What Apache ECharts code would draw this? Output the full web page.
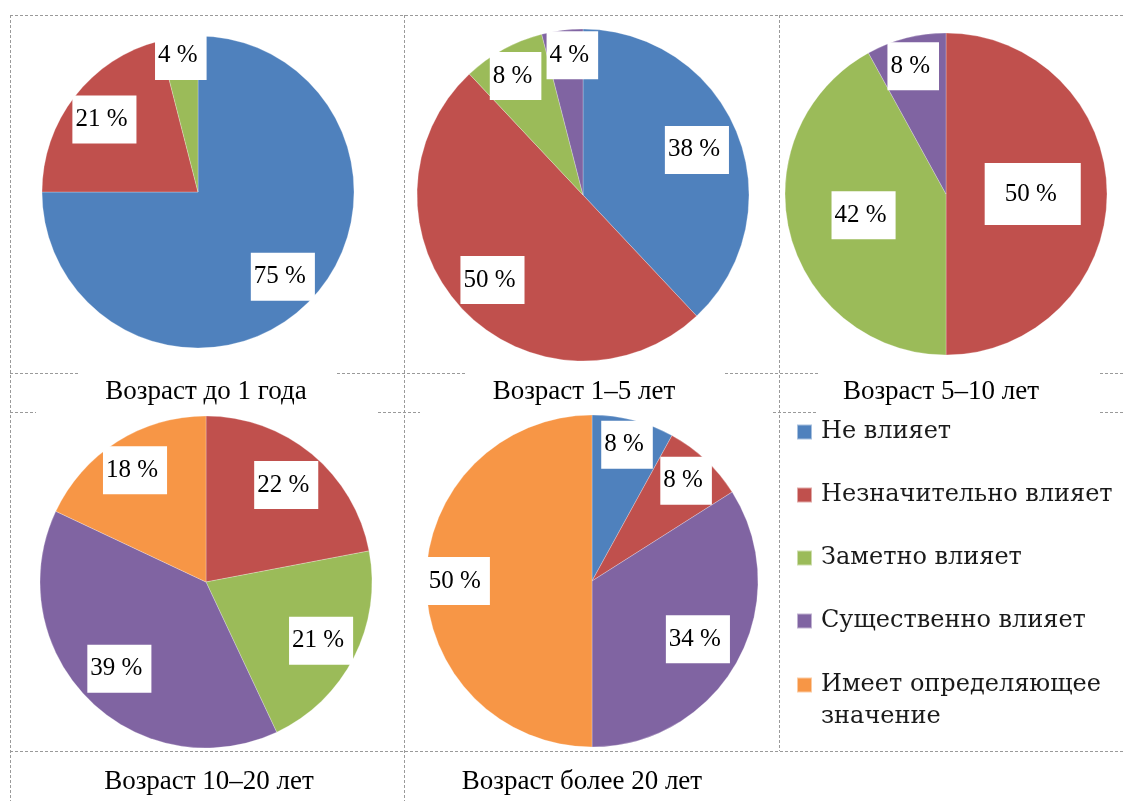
<!DOCTYPE html>
<html>
<head>
<meta charset="utf-8">
<title>Влияние по возрастным группам</title>
<script src="https://cdn.jsdelivr.net/npm/echarts@6/dist/echarts.min.js"></script>
<style>
  html, body { margin: 0; padding: 0; background: #fff; }
  #chart { width: 1123px; height: 801px; }
</style>
</head>
<body>
<div id="chart"></div>
<script>
// categories (legend order) and their colours
const categories = ['Не влияет', 'Незначительно влияет', 'Заметно влияет', 'Существенно влияет', 'Имеет определяющее значение'];
const colors = ['#4f81bd', '#c0504d', '#9bbb59', '#8064a2', '#f79646'];

const ageTitles = ['Возраст до 1 года', 'Возраст 1–5 лет', 'Возраст 5–10 лет', 'Возраст 10–20 лет', 'Возраст более 20 лет'];

// percent per category, same order as categories
const under1 = [75, 21, 4, 0, 0];
const age1to5 = [38, 50, 8, 4, 0];
const age5to10 = [0, 50, 42, 8, 0];
const age10to20 = [0, 22, 21, 39, 18];
const over20 = [8, 8, 0, 34, 50];
const pieValues = [under1, age1to5, age5to10, age10to20, over20];

// layout: pie centre/radius, title position, label distance (fraction of radius) per category
const pies = [
  { center: [198, 192], r: 156, titleAt: [206, 392], ring: [0.75, 0.74, 0.86, 0, 0] },
  { center: [583, 195], r: 166, titleAt: [584, 392], ring: [0.72, 0.73, 0.8, 0.83, 0], nudge: { 3: [7, 0], 2: [-2, 0] } },
  { center: [946, 194], r: 161, titleAt: [941, 392], ring: [0, 0.52, 0.51, 0.8, 0], wide: 1 },
  { center: [206, 582], r: 166, titleAt: [209, 782], ring: [0, 0.74, 0.76, 0.72, 0.78] },
  { center: [592, 581], r: 166, titleAt: [582, 782], ring: [0.83, 0.81, 0, 0.71, 0.79] }
];

const serif = 'Liberation Serif';
const labelStyle = {
  show: true, position: 'inside', formatter: '{c} %',
  fontFamily: serif, fontSize: 25, color: '#000', lineHeight: 26,
  backgroundColor: '#fff', padding: [11, 9, 11, 3]
};

const series = [];
pies.forEach((p, i) => {
  const items = [];
  pieValues[i].forEach((v, k) => { if (v > 0) items.push({ name: categories[k], value: v, k: k }); });
  series.push({
    type: 'pie', center: p.center, radius: p.r, startAngle: 90, clockwise: true,
    silent: true, animation: false,
    label: { show: false }, labelLine: { show: false },
    itemStyle: { borderColor: 'rgba(255,255,255,0.5)', borderWidth: 0.5 },
    data: items.map(d => ({ name: d.name, value: d.value, itemStyle: { color: colors[d.k] } }))
  });
  // transparent rings only to put each label at its own distance from centre
  const rings = [...new Set(items.map(d => p.ring[d.k]))];
  rings.forEach(f => {
    series.push({
      type: 'pie', center: p.center, radius: [Math.max(0, 2 * f - 1) * p.r, p.r],
      startAngle: 90, clockwise: true, silent: true, animation: false,
      avoidLabelOverlap: false, labelLayout: { hideOverlap: false },
      itemStyle: { color: 'rgba(0,0,0,0)' }, labelLine: { show: false },
      label: labelStyle,
      data: items.map(d => {
        const lab = { show: p.ring[d.k] === f };
        if (p.wide === d.k) lab.padding = [18, 24, 18, 20];
        if (p.nudge && p.nudge[d.k]) lab.offset = p.nudge[d.k];
        return { name: d.name, value: d.value, label: lab };
      })
    });
  });
});

// dashed frame of the original table
const hLines = [
  [15, [[10, 1123]]],
  [373, [[10, 80], [337, 467], [725, 818], [1100, 1123]]],
  [412, [[10, 36], [378, 420], [773, 818], [1100, 1123]]],
  [751, [[10, 1123]]]
];
const vLines = [[10, 15, 801], [404, 15, 801], [779, 15, 751]];
const dash = { stroke: '#9a9a9a', lineWidth: 1, lineDash: [3, 2] };
const graphic = [];
hLines.forEach(([y, segs]) => segs.forEach(([x1, x2]) => graphic.push({
  type: 'line', silent: true, z: -10, shape: { x1: x1, y1: y + 0.5, x2: x2, y2: y + 0.5 }, style: dash
})));
vLines.forEach(([x, y1, y2]) => graphic.push({
  type: 'line', silent: true, z: -10, shape: { x1: x + 0.5, y1: y1, x2: x + 0.5, y2: y2 }, style: dash
}));
ageTitles.forEach((t, i) => graphic.push({
  type: 'text', silent: true, x: pies[i].titleAt[0], y: pies[i].titleAt[1],
  style: {
    text: t, fill: '#000', font: '27px "' + serif + '"',
    align: 'center', verticalAlign: 'middle', textAlign: 'center', textVerticalAlign: 'middle'
  }
}));

const legendText = { fontFamily: 'DejaVu Serif', fontSize: 24, color: '#1a1a1a', lineHeight: 30, padding: [0, 0, 0, 4] };

const chart = echarts.init(document.getElementById('chart'));
chart.setOption({
  backgroundColor: '#fff',
  animation: false,
  legend: [
    {
      data: categories.slice(0, 4), orient: 'vertical', left: 796, top: 417, padding: 0,
      itemGap: 33, itemWidth: 15, itemHeight: 15, icon: 'rect', selectedMode: false,
      textStyle: legendText
    },
    {
      // leading empty line keeps the first text line level with the square
      data: categories.slice(4), orient: 'vertical', left: 796, top: 637, padding: 0,
      itemWidth: 15, itemHeight: 15, icon: 'rect', selectedMode: false,
      formatter: name => name.length > 22 ? '\n' + name.replace(/ (\S+)$/, '\n$1') : name,
      textStyle: Object.assign({}, legendText, { lineHeight: 32 })
    }
  ],
  graphic: graphic,
  series: series
});
</script>
</body>
</html>
